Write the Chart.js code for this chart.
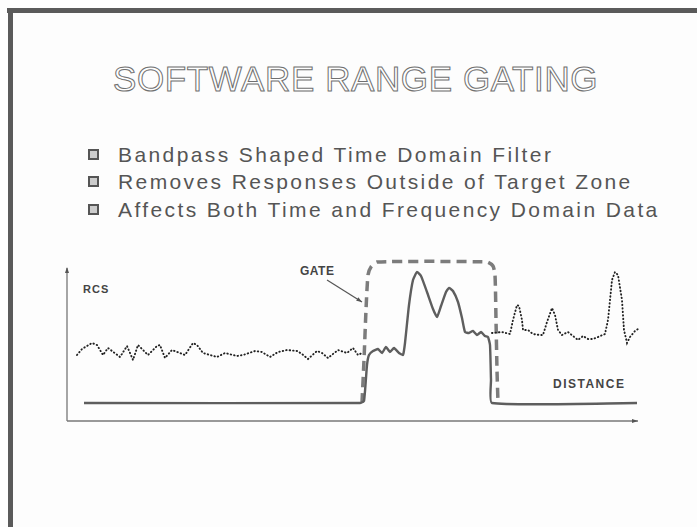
<!DOCTYPE html>
<html>
<head>
<meta charset="utf-8">
<script src="https://cdn.jsdelivr.net/npm/chart.js@4/dist/chart.umd.min.js"></script>
<style>
  body { margin: 0; background: #fff; font-family: "Liberation Sans", Arial, sans-serif; }
  #wrap { position: relative; width: 697px; height: 527px; overflow: hidden; background: #fdfdfd; }
  #chart { position: absolute; left: 0; top: 0; }
  .frameTop { position: absolute; left: 7px; top: 8px; width: 690px; height: 5px; background: #5a5a5a; }
  .frameLeft { position: absolute; left: 8px; top: 8px; width: 5px; height: 519px; background: #5a5a5a; }
  .title { position: absolute; left: 113px; top: 61px; font-size: 35px; line-height: 35px; color: #fff;
           -webkit-text-stroke: 1px #707070; white-space: nowrap; letter-spacing: 0.6px; }
  .bullet { position: absolute; left: 118px; font-size: 21px; line-height: 21px; color: #555;
            letter-spacing: 2.4px; white-space: nowrap; }
  .box { position: absolute; left: 88px; width: 7px; height: 7px; border: 2px solid #555; background: #ccc; }
  .lbl { position: absolute; font-weight: bold; color: #444; white-space: nowrap; }
</style>
</head>
<body>
<div id="wrap">
  <div class="frameTop"></div>
  <div class="frameLeft"></div>
  <div class="title">SOFTWARE RANGE GATING</div>
  <div class="box" style="top:149px"></div>
  <div class="bullet" style="top:144px">Bandpass Shaped Time Domain Filter</div>
  <div class="box" style="top:176px"></div>
  <div class="bullet" style="top:171px">Removes Responses Outside of Target Zone</div>
  <div class="box" style="top:204px"></div>
  <div class="bullet" style="top:199px">Affects Both Time and Frequency Domain Data</div>
  <div class="lbl" style="left:83px; top:283px; font-size:11px; letter-spacing:1px;">RCS</div>
  <div class="lbl" style="left:300px; top:264px; font-size:12px; letter-spacing:0.5px;">GATE</div>
  <div class="lbl" style="left:553px; top:377px; font-size:12px; letter-spacing:1.5px;">DISTANCE</div>
  <canvas id="chart" width="697" height="527"></canvas>
</div>
<script>
// raw (ungated) response, dotted; null = hidden under the gate
const rawX = [10, 15, 25, 30, 36, 41, 53, 60, 66, 71, 81, 90, 93, 98, 105, 118, 126, 130, 136, 150,
  158, 170, 176, 188, 195, 203, 211, 220, 230, 235, 241, 250, 255, 261, 271, 280, 286, 291, 295, 360,
  425, 435, 443, 446, 450, 452, 455, 456, 461, 466, 473, 476, 480, 485, 488, 491, 495, 501, 506, 511,
  516, 521, 526, 531, 538, 541, 545, 548, 551, 555, 557, 560, 563, 568, 571];
const rawY = [66, 72, 78, 76, 66, 73, 64, 75, 61, 76, 66, 75, 76, 63, 71, 66, 78, 76, 68, 64,
  68, 65, 66, 70, 69, 64, 69, 71, 70, 67, 62, 70, 68, 63, 71, 68, 73, 66, 68, null,
  88, 89, 87, 101, 116, 115, 101, 91, 91, 87, 86, 86, 99, 113, 106, 91, 86, 89, 85, 81,
  85, 82, 82, 84, 87, 101, 141, 149, 146, 121, 91, 78, 84, 90, 92];

// gated response, solid
const gatedX = [17, 293, 297, 300, 302, 306, 311, 315, 319, 323, 327, 332, 336, 338, 342, 346, 350, 354,
  360, 366, 370, 374, 379, 382, 386, 391, 395, 398, 402, 406, 410, 414, 418, 421, 423, 424, 425, 570];
const gatedY = [18, 18, 20, 56, 66, 70, 72, 68, 74, 69, 73, 68, 66, 78, 116, 141, 149, 145,
  129, 112, 104, 115, 129, 133, 130, 119, 103, 89, 88, 90, 86, 89, 85, 84, 76, 41, 18, 18];

// gate window, dashed
const gateX = [295, 297, 299, 301, 304, 310, 420, 426, 428, 429, 430, 431];
const gateY = [18, 61, 111, 146, 154, 159, 159, 155, 146, 101, 51, 18];

// "GATE" pointer, from label to gate edge
const pointerX = [260, 295];
const pointerY = [141, 119];

const zip = (xs, ys) => xs.map((x, i) => ({ x: x, y: ys[i] }));

const axesPlugin = {
  id: "axes",
  afterDraw(chart) {
    const ctx = chart.ctx;
    const a = chart.chartArea;
    const xs = chart.scales.x, ys = chart.scales.y;
    ctx.save();
    ctx.strokeStyle = "#777";
    ctx.fillStyle = "#555";
    ctx.lineWidth = 1.3;
    // y axis
    ctx.beginPath();
    ctx.moveTo(a.left, a.bottom);
    ctx.lineTo(a.left, a.top + 12);
    ctx.stroke();
    ctx.beginPath();
    ctx.moveTo(a.left - 2, a.top + 17);
    ctx.lineTo(a.left, a.top + 11);
    ctx.lineTo(a.left + 2, a.top + 17);
    ctx.fill();
    // x axis
    ctx.beginPath();
    ctx.moveTo(a.left, a.bottom);
    ctx.lineTo(a.right - 2, a.bottom);
    ctx.stroke();
    ctx.beginPath();
    ctx.moveTo(a.right - 8, a.bottom - 2);
    ctx.lineTo(a.right - 2, a.bottom);
    ctx.lineTo(a.right - 8, a.bottom + 2);
    ctx.fill();
    // gate pointer
    const x0 = xs.getPixelForValue(pointerX[0]), y0 = ys.getPixelForValue(pointerY[0]);
    const x1 = xs.getPixelForValue(pointerX[1]), y1 = ys.getPixelForValue(pointerY[1]);
    ctx.strokeStyle = "#555";
    ctx.lineWidth = 1.2;
    ctx.beginPath();
    ctx.moveTo(x0, y0);
    ctx.lineTo(x1, y1);
    ctx.stroke();
    const ang = Math.atan2(y1 - y0, x1 - x0);
    ctx.beginPath();
    ctx.moveTo(x1, y1);
    ctx.lineTo(x1 - 6 * Math.cos(ang - 0.35), y1 - 6 * Math.sin(ang - 0.35));
    ctx.lineTo(x1 - 6 * Math.cos(ang + 0.35), y1 - 6 * Math.sin(ang + 0.35));
    ctx.fill();
    ctx.restore();
  }
};

new Chart(document.getElementById("chart").getContext("2d"), {
  type: "scatter",
  data: {
    datasets: [{
      label: "Raw",
      data: zip(rawX, rawY),
      showLine: true,
      spanGaps: false,
      borderColor: "#222",
      borderWidth: 1.9,
      borderDash: [0.5, 3],
      borderCapStyle: "round",
      pointRadius: 0,
      tension: 0
    }, {
      label: "Gated",
      data: zip(gatedX, gatedY),
      showLine: true,
      borderColor: "#5e5e5e",
      borderWidth: 2.4,
      pointRadius: 0,
      tension: 0.15
    }, {
      label: "Gate",
      data: zip(gateX, gateY),
      showLine: true,
      borderColor: "#7c7c7c",
      borderWidth: 3.5,
      borderDash: [10, 6],
      pointRadius: 0,
      tension: 0.2
    }]
  },
  options: {
    responsive: false,
    animation: false,
    clip: false,
    layout: { padding: { left: 67, right: 57, top: 256, bottom: 106 } },
    plugins: { legend: { display: false }, tooltip: { enabled: false } },
    scales: {
      x: { type: "linear", min: 0, max: 573, display: false },
      y: { min: 0, max: 165, display: false }
    }
  },
  plugins: [axesPlugin]
});
</script>
</body>
</html>
